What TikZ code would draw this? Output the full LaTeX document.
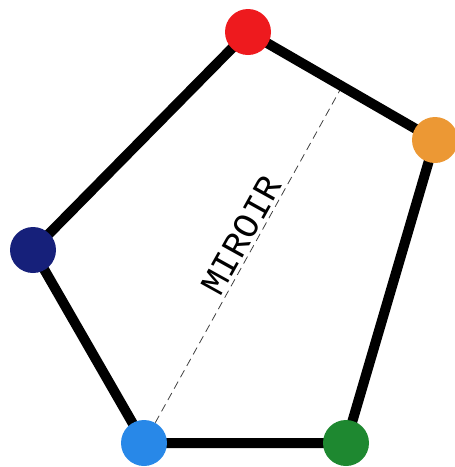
\documentclass[tikz,border=0pt]{standalone}
\usepackage{fontspec}
\newfontfamily\mirrorfont{Liberation Mono}
\usetikzlibrary{positioning}
\pgfdeclarelayer{bg}
\pgfsetlayers{bg,main}

\definecolor{dotred}{RGB}{238,26,30}
\definecolor{dotorange}{RGB}{236,152,52}
\definecolor{dotnavy}{RGB}{22,32,122}
\definecolor{dotsky}{RGB}{40,136,232}
\definecolor{dotgreen}{RGB}{30,136,48}

\begin{document}
\begin{tikzpicture}[
  x=1pt, y=-1pt,
  dot/.style={circle, inner sep=0pt, minimum size=46pt},
  edge/.style={line width=10pt, black},
  mirror/.style={dashed, dash pattern=on 8pt off 5pt, line width=0.8pt, black!75},
  label/.style={font=\mirrorfont\fontsize{36}{36}\selectfont, inner sep=0pt, text=black}
]
\useasboundingbox (0,0) rectangle (455,467);
\node[dot, fill=dotred] (red) at (248,32) {};
\node[dot, fill=dotorange] (orange) at (435,140) {};
\node[dot, fill=dotgreen] (green) at (346,443) {};
\node[dot, fill=dotsky] (sky) at (144,443) {};
\node[dot, fill=dotnavy] (navy) at (33,250) {};
\coordinate (mtop) at (340,90);

\begin{pgfonlayer}{bg}
\draw[mirror] (sky) -- node[label, sloped, above=3pt, pos=0.54] {MIROIR} (mtop);
\draw[edge] (red.center) -- (orange.center) -- (green.center)
  -- (sky.center) -- (navy.center) -- (red.center);
\end{pgfonlayer}
\end{tikzpicture}
\end{document}
